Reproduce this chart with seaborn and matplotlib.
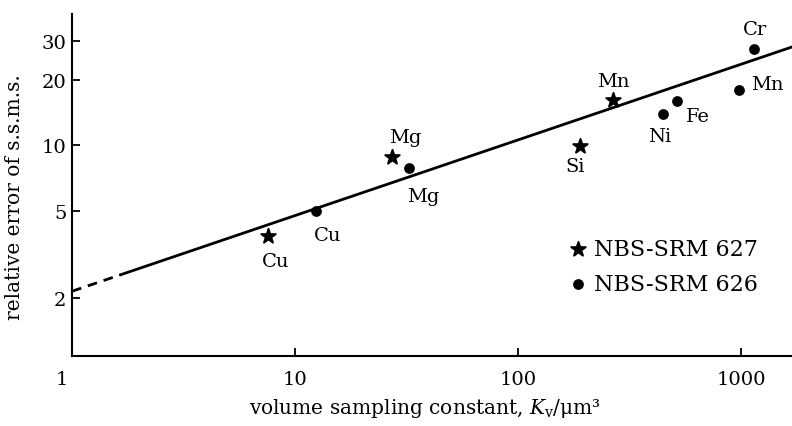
import numpy as np
import pandas as pd
import matplotlib
matplotlib.use("Agg")
import matplotlib.pyplot as plt
import matplotlib.transforms as mtransforms
import seaborn as sns

# ---- data ----
srm627_elements = ["Cu", "Mg", "Si", "Mn"]
srm627_kv = [7.6, 27.2, 190.0, 267.0]
srm627_err = [3.83, 8.8, 9.9, 16.1]

srm626_elements = ["Cu", "Mg", "Ni", "Fe", "Mn", "Cr"]
srm626_kv = [12.4, 32.5, 447.0, 516.0, 980.0, 1143.0]
srm626_err = [5.0, 7.83, 13.9, 15.9, 17.9, 27.5]

# fitted line  err = a * Kv ** b
fit_a = 2.14
fit_b = 0.347
fit_x_dashed = [1.0, 1.65]
fit_x_solid = [1.65, 1700.0]

x_ticks = [1, 10, 100, 1000]
x_tick_labels = ["1", "10", "100", "1000"]
y_ticks = [2, 5, 10, 20, 30]
y_tick_labels = ["2", "5", "10", "20", "30"]

legend_labels = ["NBS-SRM 627", "NBS-SRM 626"]

# label offsets in pixels (dx, dy) for each point
srm627_offsets = [(7, -25), (13, 20), (-5, -20), (0, 19)]
srm626_offsets = [(12, -24), (14, -28), (-3, -22), (21, -15), (28, 6), (1, 20)]

# ---- build tables ----
df627 = pd.DataFrame({"Kv": srm627_kv, "err": srm627_err, "el": srm627_elements})
df626 = pd.DataFrame({"Kv": srm626_kv, "err": srm626_err, "el": srm626_elements})
dash_df = pd.DataFrame({"Kv": fit_x_dashed,
                        "err": [fit_a * v ** fit_b for v in fit_x_dashed]})
solid_df = pd.DataFrame({"Kv": fit_x_solid,
                         "err": [fit_a * v ** fit_b for v in fit_x_solid]})

sns.set_style("ticks")
plt.rcParams["font.family"] = ["DejaVu Serif"]
plt.rcParams["mathtext.fontset"] = "dejavuserif"
plt.rcParams["text.color"] = "black"
plt.rcParams["axes.labelcolor"] = "black"
FS = 14

fig = plt.figure(figsize=(7.92, 4.27), dpi=100)
ax = fig.add_axes([72 / 792, 1 - 357 / 427, 720 / 792, 342 / 427])

sns.lineplot(data=dash_df, x="Kv", y="err", ax=ax, color="black", lw=2.0,
             linestyle=(0, (3.5, 2.5)))
sns.lineplot(data=solid_df, x="Kv", y="err", ax=ax, color="black", lw=2.0)

sns.scatterplot(data=df627, x="Kv", y="err", ax=ax, marker="*", s=120,
                color="black", edgecolor="black", linewidth=1.4, zorder=3,
                label=legend_labels[0])
sns.scatterplot(data=df626, x="Kv", y="err", ax=ax, marker="o", s=60,
                color="black", edgecolor="black", linewidth=0, zorder=3,
                label=legend_labels[1])

for df, offs in ((df627, srm627_offsets), (df626, srm626_offsets)):
    for (k, e, el), (dx, dy) in zip(df[["Kv", "err", "el"]].values, offs):
        ax.annotate(el, (k, e), xytext=(dx, dy), textcoords="offset pixels",
                    ha="center", va="center", fontsize=FS, color="black")

ax.set_xscale("log")
ax.set_yscale("log")
ax.set_xlim(1, 1694)
ax.set_ylim(1.08, 40)
ax.set_xticks(x_ticks)
ax.set_xticklabels(x_tick_labels)
ax.set_yticks(y_ticks)
ax.set_yticklabels(y_tick_labels)
ax.minorticks_off()
ax.tick_params(axis="both", direction="in", length=6, width=1.3,
               labelsize=FS, colors="black")
ax.tick_params(axis="x", pad=10)
ax.tick_params(axis="y", pad=4)
# first x label sits slightly left of its tick in the reference
lab0 = ax.get_xticklabels()[0]
lab0.set_transform(lab0.get_transform() +
                   mtransforms.ScaledTranslation(-10 / 100, 0, fig.dpi_scale_trans))

sns.despine(ax=ax)
for sp in ("left", "bottom"):
    ax.spines[sp].set_linewidth(1.5)
    ax.spines[sp].set_color("black")

ax.set_xlabel("volume sampling constant, $K_\\mathrm{v}$/μm³", fontsize=FS + 0.5)
ax.xaxis.set_label_coords((425 - 72) / 720, (357 - 397) / 342)
ax.set_ylabel("relative error of s.s.m.s.", fontsize=FS + 0.5)
ax.yaxis.set_label_coords((24 - 72) / 720, (357 - 197) / 342)

leg = ax.legend(loc="upper left", bbox_to_anchor=(0.69, 0.345), frameon=False,
                fontsize=FS + 2, handlelength=0.8, handletextpad=0.35,
                borderpad=0, borderaxespad=0, labelspacing=0.58,
                markerscale=1.0)
for t in leg.get_texts():
    t.set_color("black")

fig.savefig("out.png", dpi=100)
